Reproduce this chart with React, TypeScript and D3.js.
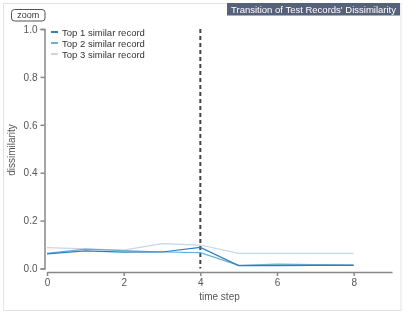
import { useEffect, useRef } from 'react'
import * as d3 from 'd3'

const steps = [0, 1, 2, 3, 4, 5, 6, 7, 8]
const seriesNames = ['Top 1 similar record', 'Top 2 similar record', 'Top 3 similar record']
const top1 = [0.061, 0.074, 0.068, 0.069, 0.088, 0.012, 0.012, 0.013, 0.013]
const top2 = [0.063, 0.081, 0.075, 0.069, 0.066, 0.013, 0.018, 0.016, 0.015]
const top3 = [0.087, 0.082, 0.077, 0.104, 0.098, 0.063, 0.063, 0.063, 0.063]
const colors = ['#2f7fbc', '#6baed6', '#c6d7ea']
const xTicks = [0, 2, 4, 6, 8]
const yTicks = [0, 0.2, 0.4, 0.6, 0.8, 1.0]
const markerStep = 4

const W = 407
const H = 316
const FONT = 'Liberation Sans, Arial, sans-serif'

export default function App() {
  const svgRef = useRef<SVGSVGElement>(null)

  useEffect(() => {
    const svg = d3.select(svgRef.current!)
    svg.selectAll('*').remove()

    const x = d3.scaleLinear().domain([0, 9]).range([47, 392])
    const y = d3.scaleLinear().domain([0, 1]).range([268.5, 29])

    // panel frame
    svg.append('rect')
      .attr('x', 3.5).attr('y', 3.5).attr('width', 397.5).attr('height', 307)
      .style('fill', '#fff').style('stroke', '#e3e3e3')

    // title box
    svg.append('rect')
      .attr('x', 227).attr('y', 3).attr('width', 173).attr('height', 12.5)
      .style('fill', '#56617a')
    svg.append('text')
      .attr('x', 313.5).attr('y', 12.8).attr('text-anchor', 'middle')
      .style('fill', '#fff').style('font-size', '9.5px').style('font-family', FONT)
      .text("Transition of Test Records' Dissimilarity")

    // zoom button
    svg.append('rect')
      .attr('x', 11.5).attr('y', 9.5).attr('width', 33.5).attr('height', 11.5).attr('rx', 3)
      .style('fill', '#fff').style('stroke', '#555')
    svg.append('text')
      .attr('x', 28.3).attr('y', 18.3).attr('text-anchor', 'middle')
      .style('fill', '#333').style('font-size', '9px').style('font-family', FONT)
      .text('zoom')

    // y axis
    const yAxisG = svg.append('g').attr('transform', 'translate(44.5,0)')
    yAxisG.call(d3.axisLeft(y).tickValues(yTicks).tickSize(4).tickFormat(d3.format('.1f')))
    yAxisG.selectAll('text')
      .style('fill', '#555').style('font-size', '10px').style('font-family', FONT)
    yAxisG.selectAll('path, line').style('stroke', '#888').style('stroke-width', '1.5')

    // x axis
    const xAxisG = svg.append('g').attr('transform', 'translate(0,272)')
    xAxisG.call(d3.axisBottom(x).tickValues(xTicks).tickSize(4).tickSizeOuter(0).tickFormat(d3.format('d')))
    xAxisG.selectAll('text')
      .style('fill', '#555').style('font-size', '10px').style('font-family', FONT)
    xAxisG.selectAll('path, line').style('stroke', '#888').style('stroke-width', '1.5')

    // axis labels
    svg.append('text')
      .attr('x', x(4.5)).attr('y', 299.5).attr('text-anchor', 'middle')
      .style('fill', '#555').style('font-size', '10px').style('font-family', FONT)
      .text('time step')
    svg.append('text')
      .attr('transform', 'rotate(-90)')
      .attr('x', -150).attr('y', 15).attr('text-anchor', 'middle')
      .style('fill', '#555').style('font-size', '10px').style('font-family', FONT)
      .text('dissimilarity')

    // dashed marker
    svg.append('line')
      .attr('x1', x(markerStep)).attr('x2', x(markerStep))
      .attr('y1', y(1)).attr('y2', y(0))
      .style('stroke', '#444').style('stroke-width', '2').style('stroke-dasharray', '4 3')

    const series = [top1, top2, top3]
    const line = d3.line<number>().x((_, i) => x(steps[i])).y(d => y(d))
    series.slice().reverse().forEach((vals, ri) => {
      const i = series.length - 1 - ri
      svg.append('path')
        .datum(vals)
        .attr('d', line)
        .style('fill', 'none')
        .style('stroke', colors[i])
        .style('stroke-width', '1.2')
    })

    // legend
    const leg = svg.append('g').attr('transform', 'translate(51,32)')
    seriesNames.forEach((name, i) => {
      leg.append('line')
        .attr('x1', 0).attr('x2', 7).attr('y1', i * 11).attr('y2', i * 11)
        .style('stroke', colors[i]).style('stroke-width', '2')
      leg.append('text')
        .attr('x', 11).attr('y', i * 11 + 3.5)
        .style('fill', '#333').style('font-size', '9.5px').style('font-family', FONT)
        .text(name)
    })
  }, [])

  return (
    <div style={{ position: 'fixed', left: 0, top: 0 }}>
      <svg ref={svgRef} width={W} height={H} style={{ display: 'block' }} />
    </div>
  )
}
